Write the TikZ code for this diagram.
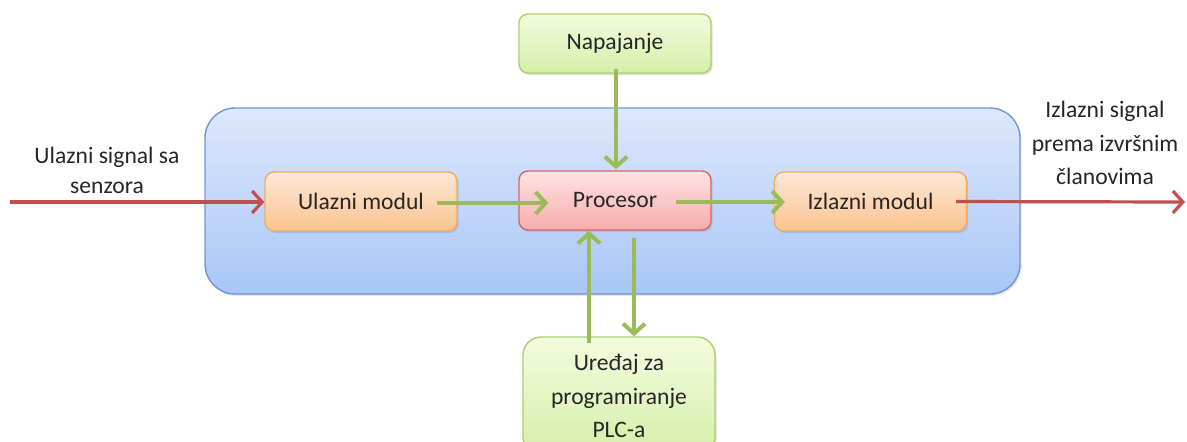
\documentclass[tikz,border=0pt]{standalone}
\usepackage{fontspec}
\setmainfont{Carlito}
\usetikzlibrary{arrows.meta,calc,shadows}
\definecolor{bluebord}{HTML}{7096CF}
\definecolor{bluetop}{HTML}{DDE8FC}
\definecolor{bluebot}{HTML}{A8C6F7}
\definecolor{orbord}{HTML}{F5A962}
\definecolor{ortop}{HTML}{FEE8D6}
\definecolor{orbot}{HTML}{FBC38F}
\definecolor{pkbord}{HTML}{CF6A6A}
\definecolor{pktop}{HTML}{FEE3E3}
\definecolor{pkbot}{HTML}{F8ABAB}
\definecolor{grbord}{HTML}{AACF72}
\definecolor{grtop}{HTML}{F3FBDF}
\definecolor{grbot}{HTML}{D5EFA8}
\definecolor{arrgreen}{HTML}{9BBB59}
\definecolor{arrred}{HTML}{C0504D}
\tikzset{
  x=0.5pt, y=-0.5pt,
  every node/.style={font=\fontsize{11.8pt}{14pt}\selectfont, text=black!85},
  boxbase/.style={rectangle, rounded corners=4.5pt, line width=0.7pt, minimum width=96pt, minimum height=29.5pt, inner sep=0pt,
    drop shadow={shadow xshift=0.8pt, shadow yshift=-1pt, opacity=0.25}},
  orbox/.style={boxbase, draw=orbord, top color=ortop, bottom color=orbot},
  pkbox/.style={boxbase, draw=pkbord, top color=pktop, bottom color=pkbot},
  grbox/.style={boxbase, draw=grbord, top color=grtop, bottom color=grbot},
  garrow/.style={draw=arrgreen, line width=2.2pt, -{Straight Barb[length=5pt,width=11pt,line width=2pt]}},
  rarrow/.style={draw=arrred, line width=1.6pt, -{Straight Barb[length=5pt,width=11pt,line width=1.6pt]}},
  lbl/.style={align=center, text=black!85}
}
\begin{document}
\begin{tikzpicture}
\useasboundingbox (0,0) rectangle (1187,441);
% big container
\node[rectangle, rounded corners=15pt, draw=bluebord, line width=0.7pt, top color=bluetop, bottom color=bluebot,
  minimum width=407.5pt, minimum height=93pt, inner sep=0pt,
  drop shadow={shadow xshift=0.8pt, shadow yshift=-1pt, opacity=0.2}] (plc) at (612.5,201) {};
% modules
\node[orbox] (um) at (361,201.5) {Ulazni modul};
\node[pkbox] (proc) at (615,200.5) {Procesor};
\node[orbox] (im) at (870.5,201.5) {Izlazni modul};
\node[grbox] (nap) at (615,43.5) {Napajanje};
\node[grbox, rounded corners=9pt, minimum height=59pt, align=center, font=\fontsize{11.8pt}{16.6pt}\selectfont] (prog) at (619,396) {Uređaj za\\programiranje\\PLC-a};
% labels
\node[lbl, font=\fontsize{11.8pt}{15pt}\selectfont] (inl) at (107,170) {Ulazni signal sa\\senzora};
\node[lbl, font=\fontsize{11.8pt}{16.6pt}\selectfont] (outl) at (1105,143) {Izlazni signal\\prema izvršnim\\članovima};
\coordinate (src) at (10,202);
\coordinate (dst) at (1185,202);
\coordinate (g1a) at (437,203);
\coordinate (g2a) at (676,202);
\coordinate (upa) at (589,343);
\coordinate (dna) at (634,238);
% red arrows
\draw[rarrow] (src) -- (src -| um.west);
\draw[rarrow] ($(im.east)+(-11,0)$) -- (dst);
% green arrows
\draw[garrow] (g1a) -- ($(g1a -| proc.west)+(30,0)$);
\draw[garrow] (g2a) -- ($(g2a -| im.west)+(11,0)$);
\draw[garrow] ($(nap.south)+(1,-5)$) -- ($(proc.north)+(1,-1)$);
\draw[garrow] (upa) -- (upa |- proc.south);
\draw[garrow] (dna) -- (dna |- prog.north);
\end{tikzpicture}
\end{document}
